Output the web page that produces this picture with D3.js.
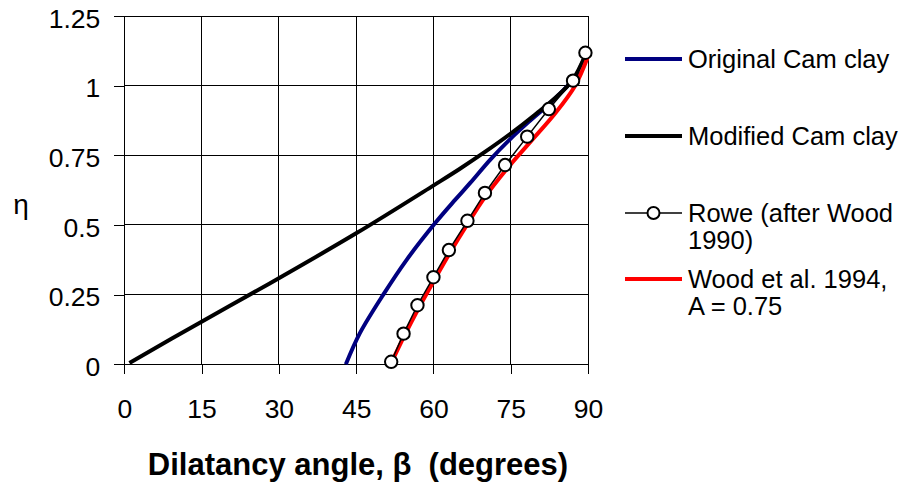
<!DOCTYPE html>
<html><head><meta charset="utf-8">
<script src="https://cdn.jsdelivr.net/npm/d3@7"></script>
<style>body{margin:0;background:#fff}svg{display:block}</style>
</head><body><svg id="c" width="906" height="485"></svg>
<script>
// ---- data (β in degrees, η) ----
const xTicks = [0, 15, 30, 45, 60, 75, 90];
const yTicks = [0, 0.25, 0.5, 0.75, 1, 1.25];
const yTickLabels = ["0", "0.25", "0.5", "0.75", "1", "1.25"];

const originalCamClay = [[43.0,0],[45.7,0.111],[50.3,0.251],[54.8,0.375],[60.3,0.506],[64.2,0.59],[67.1,0.65],[71.0,0.734],[75.0,0.81],[78.5,0.87],[82.2,0.93],[85.8,0.995],[88.3,1.05]];
const modifiedCamClay = [[1.0,0.005],[15.0,0.153],[28.3,0.291],[45.0,0.47],[60.2,0.644],[65.0,0.70],[70.0,0.762],[75.0,0.828],[80.0,0.9],[84.0,0.962],[87.0,1.02],[89.5,1.11]];
const roweBeta = [51.8,54.2,56.9,60.0,63.0,66.6,70.0,73.9,78.2,82.4,87.1,89.5];
const roweEta  = [0.009,0.11,0.212,0.3125,0.41,0.515,0.615,0.715,0.817,0.916,1.018,1.118];
const wood1994 = [[51.7,0.0],[54.3,0.1],[57.1,0.2],[60.1,0.3],[63.2,0.4],[66.5,0.5],[70.0,0.6],[74.2,0.7],[78.9,0.8],[83.6,0.9],[87.5,1.0],[89.9,1.1]];

const legendItems = [
  {lines:["Original Cam clay"], color:"#000080", type:"line"},
  {lines:["Modified Cam clay"], color:"#000000", type:"line"},
  {lines:["Rowe (after Wood","1990)"], color:"#000000", type:"marker"},
  {lines:["Wood et al. 1994,","A = 0.75"], color:"#ff0000", type:"line"}
];

// ---- layout ----
const FONT = "'Liberation Sans', Arial, sans-serif";
const svg = d3.select("#c");
const x = d3.scaleLinear().domain([0, 90]).range([124.3, 588]);
const y = d3.scaleLinear().domain([0, 1.25]).range([364.3, 16]);

// grid
const g = svg.append("g");
g.selectAll("line.v").data(xTicks.filter(d=>d>0)).join("line")
  .attr("x1", d=>x(d)).attr("x2", d=>x(d)).attr("y1", y(1.25)).attr("y2", y(0))
  .attr("stroke","#000").attr("stroke-width",1).attr("shape-rendering","crispEdges");
g.selectAll("line.h").data(yTicks.filter(d=>d>0)).join("line")
  .attr("x1", x(0)).attr("x2", x(90)).attr("y1", d=>y(d)).attr("y2", d=>y(d))
  .attr("stroke","#000").attr("stroke-width",1).attr("shape-rendering","crispEdges");

// axes
const xAxis = d3.axisBottom(x).tickValues(xTicks).tickSize(10).tickPadding(25).tickFormat(d3.format("d"));
const yAxis = d3.axisLeft(y).tickValues(yTicks).tickSize(10).tickPadding(14).tickFormat((d,i)=>yTickLabels[i]);
const gx = svg.append("g").attr("transform",`translate(0,${y(0)})`).call(xAxis);
const gy = svg.append("g").attr("transform",`translate(${x(0)},0)`).call(yAxis);
[gx, gy].forEach(a=>{
  a.select(".domain").attr("stroke","#000").attr("stroke-width",1).attr("shape-rendering","crispEdges");
  a.selectAll(".tick line").attr("stroke","#000").attr("shape-rendering","crispEdges");
  a.selectAll(".tick text").attr("fill","#000").style("font-family",FONT).style("font-size","26.5px");
});
gy.selectAll(".tick text").attr("dy","0.42em");
gx.select(".domain").attr("d", `M${x(0)},0H${x(90)}`);
gy.select(".domain").attr("d", `M0,${y(0)}V${y(1.25)}`);

// axis titles
svg.append("text").attr("x", 358).attr("y", 475).attr("text-anchor","middle")
  .style("font-family",FONT).style("font-size","31px").style("font-weight","bold")
  .attr("xml:space","preserve")
  .text("Dilatancy angle, β  (degrees)");
svg.append("text").attr("x", 21).attr("y", 214).attr("text-anchor","middle")
  .style("font-family",FONT).style("font-size","28px")
  .text("η");

// series
const line = d3.line().x(d=>x(d[0])).y(d=>y(d[1])).curve(d3.curveCatmullRom.alpha(0.5));
svg.append("path").datum(originalCamClay).attr("d", line).attr("fill","none").attr("stroke","#000080").attr("stroke-width",4);
svg.append("path").datum(modifiedCamClay).attr("d", line).attr("fill","none").attr("stroke","#000").attr("stroke-width",4);
svg.append("path").datum(wood1994).attr("d", line).attr("fill","none").attr("stroke","#ff0000").attr("stroke-width",4);
const rowe = roweBeta.map((b,i)=>[b, roweEta[i]]);
svg.append("path").datum(rowe).attr("d", d3.line().x(d=>x(d[0])).y(d=>y(d[1])))
  .attr("fill","none").attr("stroke","#000").attr("stroke-width",1.5);
svg.selectAll("circle.rowe").data(rowe).join("circle")
  .attr("cx", d=>x(d[0])).attr("cy", d=>y(d[1])).attr("r",6.2)
  .attr("fill","#fff").attr("stroke","#000").attr("stroke-width",2);

// legend
const legY = [59, 136, 213, 279];
const lg = svg.append("g");
legendItems.forEach((it, i)=>{
  const yy = legY[i];
  if (it.type === "line") {
    lg.append("line").attr("x1",625).attr("x2",682).attr("y1",yy).attr("y2",yy)
      .attr("stroke",it.color).attr("stroke-width",4);
  } else {
    lg.append("line").attr("x1",625).attr("x2",682).attr("y1",yy).attr("y2",yy)
      .attr("stroke",it.color).attr("stroke-width",1.5);
    lg.append("circle").attr("cx",653.5).attr("cy",yy).attr("r",6)
      .attr("fill","#fff").attr("stroke","#000").attr("stroke-width",2);
  }
  it.lines.forEach((t, j)=>{
    lg.append("text").attr("x",688).attr("y", yy + 9 + j*27)
      .style("font-family",FONT).style("font-size","25.5px").attr("fill","#000").text(t);
  });
});
</script>
</body></html>
